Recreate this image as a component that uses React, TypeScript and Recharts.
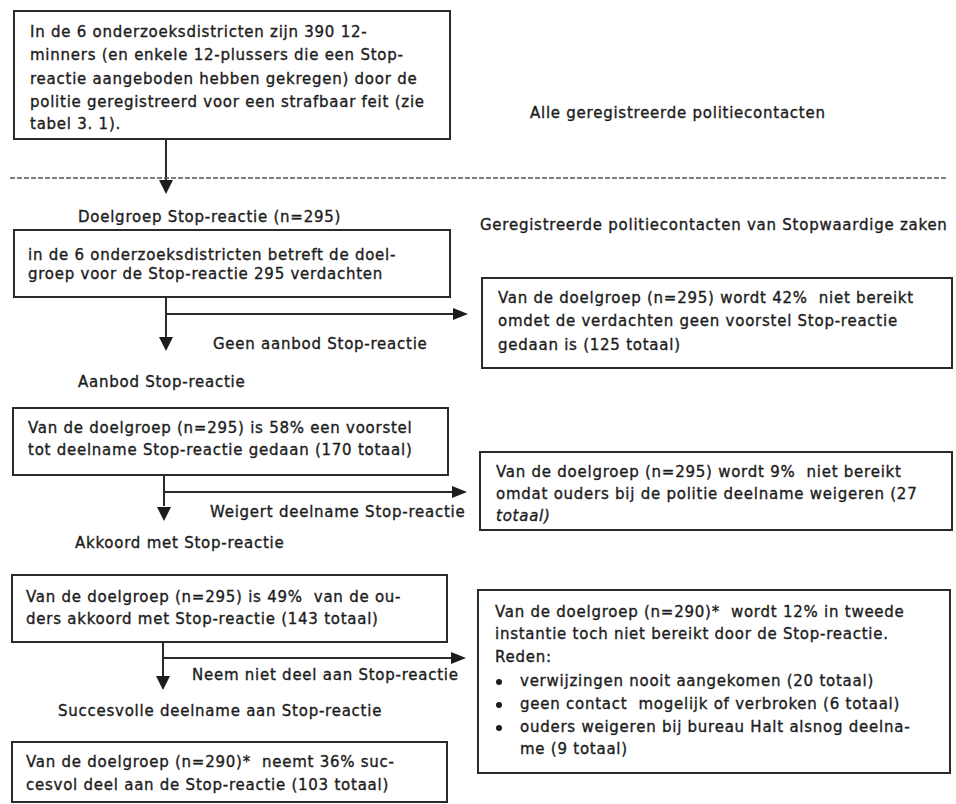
import React from 'react';
import {
  ScatterChart,
  Scatter,
  XAxis,
  YAxis,
  ReferenceArea,
  ReferenceLine,
} from 'recharts';

// flowchart in page pixels (x right, y down)
const W = 956;
const H = 804;

const boxes = [
  { id: 'alle', x1: 14, x2: 450, y1: 11, y2: 139 },
  { id: 'doelgroep', x1: 14, x2: 450, y1: 230, y2: 297 },
  { id: 'geenAanbod', x1: 482, x2: 952, y1: 278, y2: 368 },
  { id: 'aanbod', x1: 13, x2: 448, y1: 408, y2: 475 },
  { id: 'weigert', x1: 480, x2: 952, y1: 452, y2: 530 },
  { id: 'akkoord', x1: 12, x2: 447, y1: 575, y2: 642 },
  { id: 'nietBereikt', x1: 478, x2: 950, y1: 590, y2: 773 },
  { id: 'succes', x1: 12, x2: 447, y1: 742, y2: 802 },
];

const connectors = [
  { x1: 166, y1: 139, x2: 166, y2: 182 },
  { x1: 166, y1: 297, x2: 166, y2: 338 },
  { x1: 166, y1: 314, x2: 456, y2: 314 },
  { x1: 164, y1: 475, x2: 164, y2: 506 },
  { x1: 164, y1: 492, x2: 456, y2: 492 },
  { x1: 163, y1: 642, x2: 163, y2: 676 },
  { x1: 163, y1: 658, x2: 455, y2: 658 },
];

const dashed = [{ x1: 10, y1: 178, x2: 948, y2: 178 }];

const arrows = [
  { x: 166, y: 194, dir: 'down' },
  { x: 166, y: 351, dir: 'down' },
  { x: 468, y: 314, dir: 'right' },
  { x: 164, y: 521, dir: 'down' },
  { x: 467, y: 492, dir: 'right' },
  { x: 163, y: 690, dir: 'down' },
  { x: 466, y: 658, dir: 'right' },
];

const labels = [
  { x: 530, y: 113, text: 'Alle geregistreerde politiecontacten' },
  { x: 78, y: 217, text: 'Doelgroep Stop-reactie (n=295)' },
  { x: 480, y: 225, text: 'Geregistreerde politiecontacten van Stopwaardige zaken' },
  { x: 213, y: 344, text: 'Geen aanbod Stop-reactie' },
  { x: 78, y: 382, text: 'Aanbod Stop-reactie' },
  { x: 210, y: 512, text: 'Weigert deelname Stop-reactie' },
  { x: 75, y: 543, text: 'Akkoord met Stop-reactie' },
  { x: 192, y: 675, text: 'Neem niet deel aan Stop-reactie' },
  { x: 58, y: 711, text: 'Succesvolle deelname aan Stop-reactie' },
];

const boxLines = [
  { x: 30, y: 32, text: 'In de 6 onderzoeksdistricten zijn 390 12-' },
  { x: 30, y: 55, text: 'minners (en enkele 12-plussers die een Stop-' },
  { x: 30, y: 79, text: 'reactie aangeboden hebben gekregen) door de' },
  { x: 30, y: 102, text: 'politie geregistreerd voor een strafbaar feit (zie' },
  { x: 30, y: 124, text: 'tabel 3. 1).' },
  { x: 28, y: 255, text: 'in de 6 onderzoeksdistricten betreft de doel-' },
  { x: 28, y: 274, text: 'groep voor de Stop-reactie 295 verdachten' },
  { x: 498, y: 298, text: 'Van de doelgroep (n=295) wordt 42%  niet bereikt' },
  { x: 498, y: 321, text: 'omdet de verdachten geen voorstel Stop-reactie' },
  { x: 498, y: 345, text: 'gedaan is (125 totaal)' },
  { x: 28, y: 428, text: 'Van de doelgroep (n=295) is 58% een voorstel' },
  { x: 28, y: 450, text: 'tot deelname Stop-reactie gedaan (170 totaal)' },
  { x: 496, y: 472, text: 'Van de doelgroep (n=295) wordt 9%  niet bereikt' },
  { x: 496, y: 494, text: 'omdat ouders bij de politie deelname weigeren (27' },
  { x: 496, y: 516, text: 'totaal)', italic: true },
  { x: 26, y: 597, text: 'Van de doelgroep (n=295) is 49%  van de ou-' },
  { x: 26, y: 619, text: 'ders akkoord met Stop-reactie (143 totaal)' },
  { x: 495, y: 612, text: 'Van de doelgroep (n=290)*  wordt 12% in tweede' },
  { x: 495, y: 634, text: 'instantie toch niet bereikt door de Stop-reactie.' },
  { x: 495, y: 657, text: 'Reden:' },
  { x: 520, y: 681, text: 'verwijzingen nooit aangekomen (20 totaal)' },
  { x: 520, y: 704, text: 'geen contact  mogelijk of verbroken (6 totaal)' },
  { x: 520, y: 727, text: 'ouders weigeren bij bureau Halt alsnog deelna-' },
  { x: 520, y: 749, text: 'me (9 totaal)' },
  { x: 26, y: 762, text: 'Van de doelgroep (n=290)*  neemt 36% suc-' },
  { x: 26, y: 785, text: 'cesvol deel aan de Stop-reactie (103 totaal)' },
];

const bullets = [
  { x: 499, y: 682 },
  { x: 499, y: 705 },
  { x: 499, y: 728 },
];

const INK = '#1c1c1c';
const FONT = '"DejaVu Sans", sans-serif';

const TextShape = (props: any) => {
  const { cx, cy, payload } = props;
  return (
    <text
      x={cx}
      y={cy}
      dominantBaseline="central"
      fontFamily={FONT}
      fontSize={15}
      letterSpacing={0.75}
      fontStyle={payload.italic ? 'italic' : 'normal'}
      fill={INK}
      stroke={INK}
      strokeWidth={0.35}
      style={{ whiteSpace: 'pre' }}
    >
      {payload.text}
    </text>
  );
};

const ArrowShape = (props: any) => {
  const { cx, cy, payload } = props;
  const pts =
    payload.dir === 'down'
      ? `${cx},${cy} ${cx - 7},${cy - 14} ${cx + 7},${cy - 14}`
      : `${cx},${cy} ${cx - 15},${cy - 6} ${cx - 15},${cy + 6}`;
  return <polygon points={pts} fill={INK} />;
};

const BulletShape = (props: any) => {
  const { cx, cy } = props;
  return <circle cx={cx} cy={cy} r={3} fill={INK} />;
};

export default function App() {
  return (
    <div style={{ position: 'absolute', left: 0, top: 0, background: '#fff' }}>
      <ScatterChart width={W} height={H} margin={{ top: 0, right: 0, bottom: 0, left: 0 }}>
        <XAxis type="number" dataKey="x" domain={[0, W]} allowDataOverflow hide />
        <YAxis type="number" dataKey="y" domain={[0, H]} allowDataOverflow reversed hide />
        {boxes.map((b) => (
          <ReferenceArea
            key={b.id}
            x1={b.x1}
            x2={b.x2}
            y1={b.y1}
            y2={b.y2}
            fill="#fff"
            fillOpacity={1}
            stroke="#2a2a2a"
            strokeWidth={2}
            ifOverflow="visible"
          />
        ))}
        {connectors.map((c, i) => (
          <ReferenceLine
            key={`c${i}`}
            segment={[{ x: c.x1, y: c.y1 }, { x: c.x2, y: c.y2 }]}
            stroke="#2a2a2a"
            strokeWidth={2}
            ifOverflow="visible"
          />
        ))}
        {dashed.map((d, i) => (
          <ReferenceLine
            key={`d${i}`}
            segment={[{ x: d.x1, y: d.y1 }, { x: d.x2, y: d.y2 }]}
            stroke="#555"
            strokeWidth={1.5}
            strokeDasharray="5 2"
            ifOverflow="visible"
          />
        ))}
        <Scatter data={arrows} shape={ArrowShape} isAnimationActive={false} />
        <Scatter data={bullets} shape={BulletShape} isAnimationActive={false} />
        <Scatter data={labels} shape={TextShape} isAnimationActive={false} />
        <Scatter data={boxLines} shape={TextShape} isAnimationActive={false} />
      </ScatterChart>
    </div>
  );
}
